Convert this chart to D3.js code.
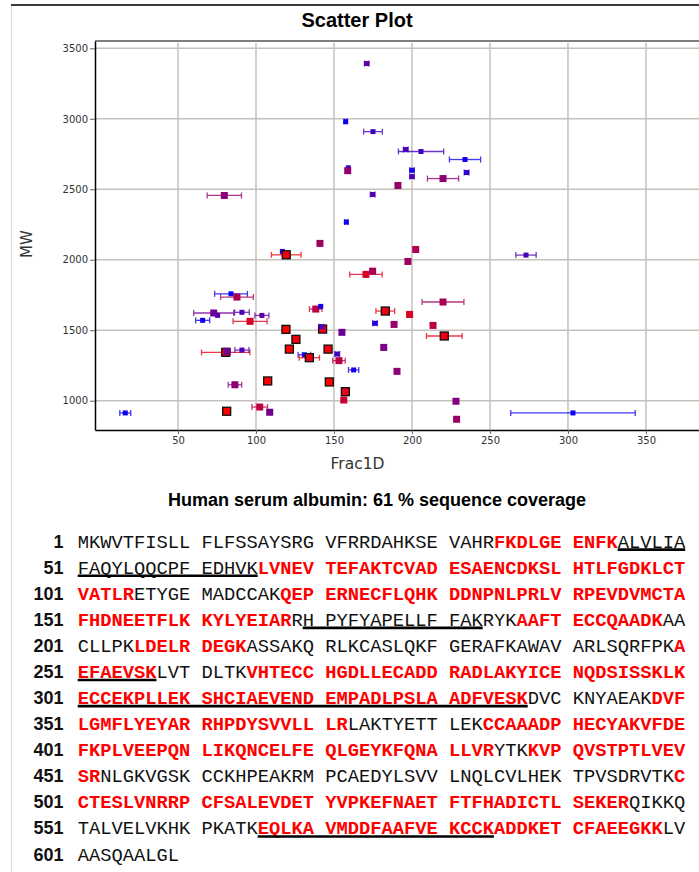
<!DOCTYPE html>
<html><head><meta charset="utf-8">
<script src="https://cdn.jsdelivr.net/npm/d3@7"></script>
<style>
html,body{margin:0;padding:0;background:#fff;}
svg{display:block;}
</style></head>
<body>
<svg id="chart" width="699" height="872"></svg>
<script>
// Peptide spots: 1D fraction vs molecular weight, with fraction spread and signal intensity
const frac1D = [79.7,171,157.5,175,196,205.8,234,159.2,158.8,200,
  200,235,219.9,191,174.8,157.9,141,116.9,119.4,84,
  87.8,72.9,75.4,91,103.8,65.8,96.2,119.2,138.3,141.5,
  142.7,142,125.6,121.4,146.2,80.6,81.6,91,131,134.2,
  86.5,107.5,147,16.2,81.2,102.4,108.8,202.4,197.4,273.1,
  170.5,174.8,219.9,182.9,198.5,176.3,188.5,213.5,220.7,155.1,
  181.9,152.1,153.2,162.6,190.4,157.3,156.3,228.2,228.6,303.2];
const mw = [2456,3392,2980,2909,2782,2768,2711,2652,2632,2635,
  2590,2619,2576,2527,2463,2267,2116,2059,2035,1758,
  1735,1622,1605,1627,1605,1570,1563,1506,1650,1669,
  1508,1525,1435,1366,1366,1343,1350,1359,1326,1305,
  1113,1140,1133,913,925,955,918,2073,1988,2033,
  1896,1919,1700,1636,1612,1549,1541,1534,1459,1485,
  1378,1331,1284,1218,1208,1064,1005,996,868,913];
const fracErr = [11,1.5,1,6,1.5,14.5,10,0,0,1.5,
  1.5,1.5,10,0,1.5,1,1,0,9.5,10.5,
  10.5,12.8,0,4.7,4.5,4.5,10.9,0,4,0,
  0,1.5,0,0,0,15.5,0,4.5,4,6.5,
  4.3,0,0,3.5,0,5,0,0,0,6.5,
  10.4,1.5,13.4,6,1.5,1.5,0,0,11.4,0,
  0,1.5,4,3.3,0,0,1.5,0,0,39.9];
const intensity = [0.55,0.35,0.05,0.25,0.3,0.25,0.05,0.1,0.58,0.1,
  0.3,0.2,0.55,0.6,0.3,0.05,0.62,0.15,0.95,0.05,
  0.68,0.45,0.3,0.3,0.38,0.05,0.85,1,0.72,0.1,
  0.95,0.3,0.95,1,0.95,0.9,0.45,0.3,0.1,0.92,
  0.55,1,1,0.05,1,0.75,0.45,0.68,0.62,0.3,
  0.85,0.65,0.65,0.93,0.85,0.15,0.6,0.72,0.93,0.42,
  0.48,0.25,0.72,0.1,0.55,0.9,0.8,0.5,0.62,0.05];
const xTicks = [50,100,150,200,250,300,350];
const yTicks = [1000,1500,2000,2500,3000,3500];

// Sequence coverage
const proteinName = "Human serum albumin";
const coveragePct = 61;
const sequence = "MKWVTFISLLFLFSSAYSRGVFRRDAHKSEVAHRFKDLGEENFKALVLIA" +
  "FAQYLQQCPFEDHVKLVNEVTEFAKTCVADESAENCDKSLHTLFGDKLCT" +
  "VATLRETYGEMADCCAKQEPERNECFLQHKDDNPNLPRLVRPEVDVMCTA" +
  "FHDNEETFLKKYLYEIARRHPYFYAPELLFFAKRYKAAFTECCQAADKAA" +
  "CLLPKLDELRDEGKASSAKQRLKCASLQKFGERAFKAWAVARLSQRFPKA" +
  "EFAEVSKLVTDLTKVHTECCHGDLLECADDRADLAKYICENQDSISSKLK" +
  "ECCEKPLLEKSHCIAEVENDEMPADLPSLAADFVESKDVCKNYAEAKDVF" +
  "LGMFLYEYARRHPDYSVVLLLRLAKTYETTLEKCCAAADPHECYAKVFDE" +
  "FKPLVEEPQNLIKQNCELFEQLGEYKFQNALLVRYTKKVPQVSTPTLVEV" +
  "SRNLGKVGSKCCKHPEAKRMPCAEDYLSVVLNQLCVLHEKTPVSDRVTKC" +
  "CTESLVNRRPCFSALEVDETYVPKEFNAETFTFHADICTLSEKERQIKKQ" +
  "TALVELVKHKPKATKEQLKAVMDDFAAFVEKCCKADDKETCFAEEGKKLV" +
  "AASQAALGL";
const coveredRanges = [[35,44],[66,105],[118,168],[187,198],[206,214],[250,257],
  [265,337],[348,372],[384,434],[438,452],[500,545],[566,598]];
const underlinedRanges = [[45,65],[170,183],[251,257],[301,337],[566,584]];

const svg = d3.select("#chart");

// Outer frame
svg.append("line").attr("x1", 11.5).attr("x2", 11.5).attr("y1", 5).attr("y2", 872)
  .attr("stroke", "#dcdcdc").attr("stroke-width", 1);
svg.append("line").attr("x1", 11).attr("x2", 699).attr("y1", 5).attr("y2", 5)
  .attr("stroke", "#3a3a3a").attr("stroke-width", 2);

svg.append("text").attr("x", 357).attr("y", 27).attr("text-anchor", "middle")
  .attr("font-family", "'Liberation Sans', Arial, sans-serif").attr("font-weight", "bold")
  .attr("font-size", 20).attr("fill", "#000").text("Scatter Plot");

// Scatter plot
const plot = {left: 95, right: 699, top: 41, bottom: 430};
const x = d3.scaleLinear().domain([-3.2, 384]).range([plot.left, plot.right]);
const y = d3.scaleLinear().domain([792, 3552]).range([plot.bottom, plot.top]);
const color = d3.scaleLinear().domain([0, 1]).range(["#0000ff", "#ff0000"]).interpolate(d3.interpolateRgb);
const side = d3.scaleThreshold().domain([0.4, 0.88]).range([5, 7, 8]);

const grid = svg.append("g").attr("stroke", "#c4c2bb").attr("stroke-width", 1.5);
grid.selectAll("line.v").data(xTicks).join("line").attr("class", "v")
  .attr("x1", d => x(d)).attr("x2", d => x(d)).attr("y1", plot.top + 2).attr("y2", plot.bottom);
grid.selectAll("line.h").data(yTicks).join("line").attr("class", "h")
  .attr("x1", plot.left).attr("x2", plot.right).attr("y1", d => y(d)).attr("y2", d => y(d));

svg.append("line").attr("x1", plot.left).attr("x2", plot.right).attr("y1", plot.top).attr("y2", plot.top)
  .attr("stroke", "#555").attr("stroke-width", 1.5);

const axisFont = "'DejaVu Sans', Verdana, sans-serif";
const gx = svg.append("g").attr("transform", `translate(0,${plot.bottom})`)
  .call(d3.axisBottom(x).tickValues(xTicks).tickFormat(d3.format("d"))
    .tickSize(4).tickSizeOuter(0).tickPadding(3));
const gy = svg.append("g").attr("transform", `translate(${plot.left},0)`)
  .call(d3.axisLeft(y).tickValues(yTicks).tickFormat(d3.format("d"))
    .tickSize(5).tickSizeOuter(0).tickPadding(2));
[gx, gy].forEach(g => {
  g.select(".domain").attr("stroke", "#000").attr("stroke-width", 1.5);
  g.selectAll(".tick line").attr("stroke", "#666");
  g.selectAll(".tick text").attr("font-family", axisFont).attr("font-size", 10).attr("fill", "#333");
});

svg.append("text").attr("x", 357.5).attr("y", 469).attr("text-anchor", "middle")
  .attr("font-family", axisFont).attr("font-size", 15.5).attr("fill", "#333").text("Frac1D");
svg.append("text").attr("transform", "translate(31.5,244) rotate(-90)").attr("text-anchor", "middle")
  .attr("font-family", axisFont).attr("font-size", 15).attr("fill", "#333").text("MW");

const spots = d3.range(frac1D.length).map(i => ({
  f: frac1D[i], m: mw[i], e: fracErr[i], t: intensity[i]
}));
const marks = svg.append("g").selectAll("g").data(spots).join("g");
marks.filter(d => d.e > 0).each(function(d) {
  const g = d3.select(this).append("g")
    .attr("stroke", color(d.t)).attr("stroke-width", 1.3).attr("opacity", 0.78);
  const yy = y(d.m), x0 = x(d.f - d.e), x1 = x(d.f + d.e);
  g.append("line").attr("x1", x0).attr("x2", x1).attr("y1", yy).attr("y2", yy);
  g.append("line").attr("x1", x0).attr("x2", x0).attr("y1", yy - 3).attr("y2", yy + 3);
  g.append("line").attr("x1", x1).attr("x2", x1).attr("y1", yy - 3).attr("y2", yy + 3);
});
marks.append("rect")
  .attr("x", d => x(d.f) - side(d.t) / 2)
  .attr("y", d => y(d.m) - side(d.t) / 2)
  .attr("width", d => side(d.t)).attr("height", d => side(d.t))
  .attr("fill", d => color(d.t))
  .attr("stroke", d => d.t >= 0.88 ? "#111" : "none")
  .attr("stroke-width", 1.3);

// Sequence coverage panel
svg.append("text").attr("x", 377).attr("y", 506).attr("text-anchor", "middle")
  .attr("font-family", "'Liberation Sans', Arial, sans-serif").attr("font-weight", "bold")
  .attr("font-size", 18).attr("fill", "#000")
  .text(`${proteinName}: ${coveragePct} % sequence coverage`);

const inRanges = (r, ranges) => ranges.some(([a, b]) => r >= a && r <= b);
const perLine = 50, perGroup = 10;
const seqX0 = 77.7, charW = 11.25, baseY0 = 547.6, lineH = 26.08;
const charX = k => seqX0 + (k + Math.floor(k / perGroup)) * charW;
const lines = d3.range(Math.ceil(sequence.length / perLine));
const seqG = svg.append("g");

lines.forEach(li => {
  const start = li * perLine + 1;
  const end = Math.min(sequence.length, start + perLine - 1);
  const by = baseY0 + li * lineH;
  seqG.append("text").attr("x", 63.5).attr("y", by).attr("text-anchor", "end")
    .attr("font-family", "'Liberation Sans', Arial, sans-serif").attr("font-weight", "bold")
    .attr("font-size", 18).attr("fill", "#111").text(start);

  // runs of identical coverage state within each block of ten residues
  const runs = [];
  for (let r = start; r <= end; r++) {
    const k = r - start;
    const cov = inRanges(r, coveredRanges);
    const last = runs[runs.length - 1];
    if (last && last.cov === cov && Math.floor(k / perGroup) === last.grp) last.s += sequence[r - 1];
    else runs.push({k, cov, grp: Math.floor(k / perGroup), s: sequence[r - 1]});
  }
  runs.forEach(run => {
    seqG.append("text").attr("x", charX(run.k)).attr("y", by)
      .attr("font-family", "'Liberation Mono', 'Courier New', monospace")
      .attr("font-size", 18.75)
      .attr("font-weight", run.cov ? "bold" : "normal")
      .attr("fill", run.cov ? "#ff0000" : "#111")
      .text(run.s);
  });

  underlinedRanges.forEach(([a, b]) => {
    const lo = Math.max(a, start), hi = Math.min(b, end);
    if (lo > hi) return;
    seqG.append("line")
      .attr("x1", charX(lo - start)).attr("x2", charX(hi - start) + charW)
      .attr("y1", by + 2).attr("y2", by + 2)
      .attr("stroke", "#000").attr("stroke-width", 2.6);
  });
});
</script>
</body></html>
